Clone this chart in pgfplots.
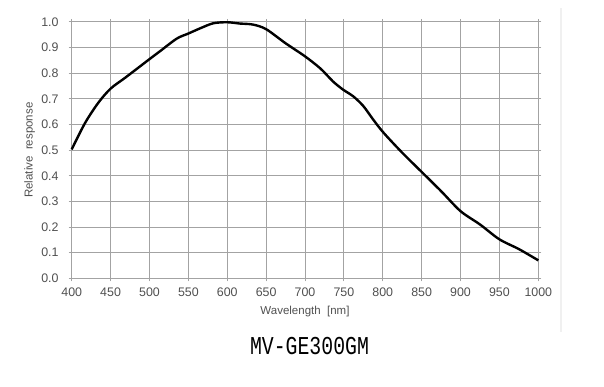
\documentclass[border=0pt]{standalone}
\usepackage{fontspec}
\setmainfont{Liberation Sans}
\newfontfamily\titlefont{Liberation Mono}
\usepackage{pgfplots}
\pgfplotsset{compat=1.18}
\definecolor{gridc}{HTML}{A3A3A3}
\definecolor{labc}{HTML}{505050}
\begin{document}
\begin{tikzpicture}
\path[use as bounding box] (0pt,0pt) rectangle (604pt,387pt);
\draw[gray!12, line width=1.5pt] (561pt,379pt) -- (561pt,55pt);
\begin{axis}[
  at={(71.7pt,108.7pt)}, anchor=south west,
  scale only axis, width=466.6pt, height=256.3pt,
  xmin=400, xmax=1000, ymin=0, ymax=1,
  xtick={400,450,...,1000},
  ytick={0,0.1,0.2,0.3,0.4,0.5,0.6,0.7,0.8,0.9,1.0},
  yticklabel style={/pgf/number format/fixed, /pgf/number format/fixed zerofill, /pgf/number format/precision=1},
  xticklabel style={/pgf/number format/1000 sep={}},
  /pgf/number format/assume math mode=true,
  grid=major,
  grid style={gridc, line width=1pt},
  axis line style={gridc, line width=1pt},
  tick style={gridc, line width=1pt},
  tick align=outside, major tick length=3pt,
  tick label style={font=\fontsize{12.4}{14}\selectfont, text=labc},
  xticklabel style={anchor=north, inner sep=0pt, yshift=-6pt},
  yticklabel style={anchor=east, inner sep=0pt, xshift=-10pt},
  xlabel={Wavelength\ \ [nm]},
  ylabel={Relative\ \ response},
  label style={font=\fontsize{11.5}{13}\selectfont, text=labc},
  xlabel style={at={(axis description cs:0.5,-0.1288)}, anchor=center},
  ylabel style={at={(axis description cs:-0.09,0.5)}, anchor=center},
  clip=false,
]
\addplot[black, line width=2.4pt, smooth, tension=0.5] coordinates {
(400,0.503) (417,0.605) (434,0.684) (450,0.740) (469,0.783) (500,0.855)
(514,0.887) (535,0.935) (550,0.955) (565,0.975) (582,0.995) (600,0.999)
(616,0.994) (633,0.99) (650,0.972) (675,0.917) (700,0.866) (720,0.818)
(736,0.768) (749,0.736) (762,0.71) (775,0.672) (788,0.618) (801,0.568)
(825,0.49) (850,0.415) (875,0.34) (900,0.262) (925,0.21) (950,0.152)
(975,0.114) (1000,0.07)
};
\end{axis}
\node[anchor=center, inner sep=0pt] at (309.5pt,40.5pt) {\scalebox{1}[1.3]{\titlefont\fontsize{19.8}{22}\selectfont MV-GE300GM}};
\end{tikzpicture}
\end{document}
